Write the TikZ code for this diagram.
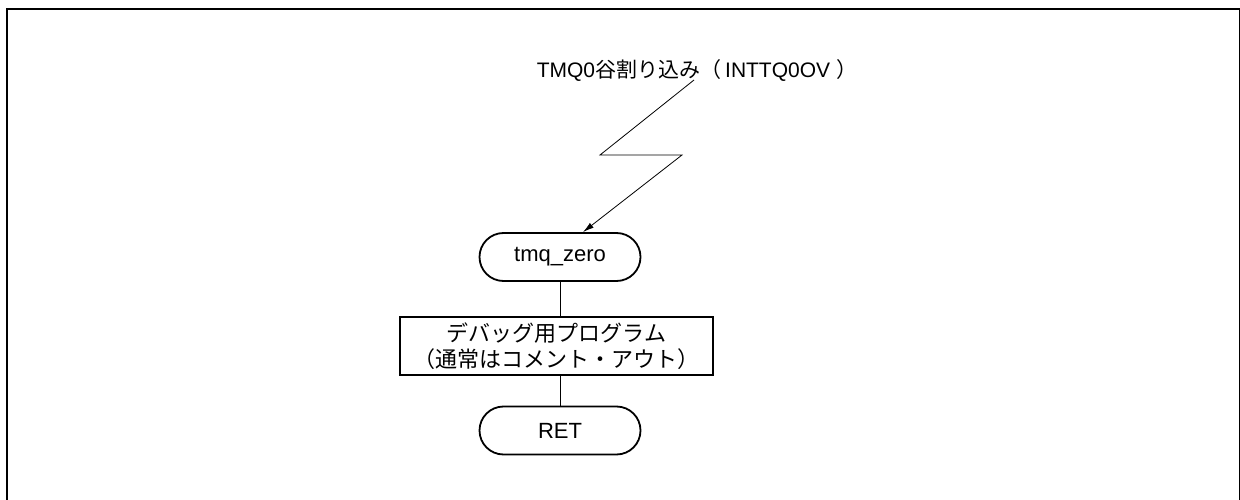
\documentclass[tikz,border=0pt]{standalone}
\usepackage{fontspec}
\setmainfont{Liberation Sans}
\newfontfamily\jp{Noto Sans CJK JP}
\usetikzlibrary{arrows.meta}
\begin{document}
\begin{tikzpicture}[x=1pt,y=-1pt,
  every node/.style={font=\fontsize{22}{26}\selectfont, inner sep=0pt},
  terminal/.style={draw, line width=1.8pt, rounded corners=24pt, minimum width=161pt, minimum height=48pt},
  procbox/.style={draw, line width=2pt, minimum width=313pt, minimum height=58pt, align=center},
  conn/.style={line width=0.8pt},
  intr/.style={line width=0.8pt, -{Latex[length=11pt,width=6pt]}}]
\useasboundingbox (0,0) rectangle (1240,500);
\begin{scope}
\clip (0,0) rectangle (1240,500);
\draw[line width=2pt] (7,9) rectangle (1239.5,520);
\end{scope}
\node[font=\fontsize{21}{26}\selectfont] (title) at (697,70) {TMQ0{\jp 谷割り込み（}\hspace{4pt}INTTQ0OV\hspace{6pt}{\jp ）}};
\node[terminal] (tz) at (560,257) {tmq\_zero};
\node[procbox] (dbg) at (556.5,346) {{\jp デバッグ用プログラム}\\{\jp （通常はコメント・アウト）}};
\node[terminal] (ret) at (560,430.5) {RET};
\coordinate (z1) at (694,80);
\coordinate (z2) at (600,155);
\coordinate (z3) at (682,155);
\draw[intr] (z1) -- (z2) -- (z3) -- ([xshift=23pt]tz.north);
\draw[conn] (tz.south) -- (tz.south |- dbg.north);
\draw[conn] (tz.south |- dbg.south) -- (ret.north);
\end{tikzpicture}
\end{document}
